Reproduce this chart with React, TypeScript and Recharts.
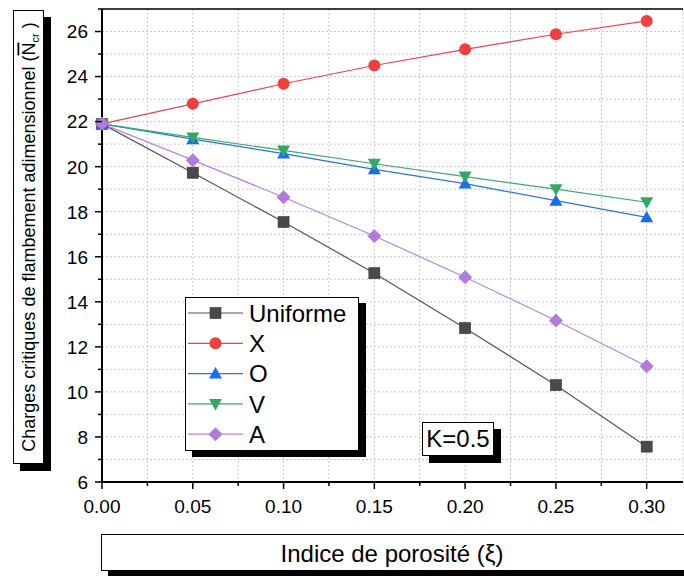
import React from 'react';
import { LineChart, Line, XAxis, YAxis, CartesianGrid, ReferenceLine } from 'recharts';

const porosity = [0, 0.05, 0.1, 0.15, 0.2, 0.25, 0.3];
const uniforme = [21.9, 19.73, 17.54, 15.27, 12.83, 10.3, 7.57];
const typeX = [21.9, 22.79, 23.68, 24.49, 25.21, 25.88, 26.47];
const typeO = [21.9, 21.22, 20.58, 19.88, 19.25, 18.49, 17.75];
const typeV = [21.9, 21.3, 20.72, 20.13, 19.56, 19.0, 18.42];
const typeA = [21.9, 20.29, 18.64, 16.92, 15.09, 13.17, 11.14];

const xTicks = [0, 0.025, 0.05, 0.075, 0.1, 0.125, 0.15, 0.175, 0.2, 0.225, 0.25, 0.275, 0.3];
const yTicks = [6, 7, 8, 9, 10, 11, 12, 13, 14, 15, 16, 17, 18, 19, 20, 21, 22, 23, 24, 25, 26, 27];

const FONT = '"Liberation Sans", Arial, Helvetica, sans-serif';

const data = porosity.map((x, i) => ({
  x,
  Uniforme: uniforme[i],
  X: typeX[i],
  O: typeO[i],
  V: typeV[i],
  A: typeA[i],
}));

type Shape = 'square' | 'circle' | 'up' | 'down' | 'diamond';

const series: { key: string; color: string; fill: string; shape: Shape }[] = [
  { key: 'Uniforme', color: '#555555', fill: '#4a4a4a', shape: 'square' },
  { key: 'X', color: '#ee4444', fill: '#ef3f3f', shape: 'circle' },
  { key: 'O', color: '#2a74e0', fill: '#1a6ee6', shape: 'up' },
  { key: 'V', color: '#3aaa6e', fill: '#33a866', shape: 'down' },
  { key: 'A', color: '#b584e2', fill: '#b07ade', shape: 'diamond' },
];

function Marker({ cx, cy, shape, fill }: { cx: number; cy: number; shape: Shape; fill: string }) {
  if (cx == null || cy == null || isNaN(cx) || isNaN(cy)) return null;
  switch (shape) {
    case 'square':
      return <rect x={cx - 5.5} y={cy - 5.5} width={11} height={11} fill={fill} stroke="#333" strokeWidth={0.6} />;
    case 'circle':
      return <circle cx={cx} cy={cy} r={6} fill={fill} />;
    case 'up':
      return <polygon points={`${cx},${cy - 6.5} ${cx - 6.5},${cy + 5} ${cx + 6.5},${cy + 5}`} fill={fill} />;
    case 'down':
      return <polygon points={`${cx - 6.5},${cy - 5} ${cx + 6.5},${cy - 5} ${cx},${cy + 6.5}`} fill={fill} />;
    case 'diamond':
    default:
      return <polygon points={`${cx},${cy - 7} ${cx + 7},${cy} ${cx},${cy + 7} ${cx - 7},${cy}`} fill={fill} />;
  }
}

function YTick(props: any) {
  const { x, y, payload } = props;
  const v = payload.value as number;
  const major = Math.round(v) % 2 === 0;
  return (
    <g>
      <line x1={x - (major ? 7 : 4)} x2={x} y1={y} y2={y} stroke="#000" strokeWidth={1.5} />
      {major && (
        <text x={x - 14} y={y} dy="0.36em" textAnchor="end" fontSize={19} fontFamily={FONT} fill="#000">
          {v}
        </text>
      )}
    </g>
  );
}

function XTick(props: any) {
  const { x, y, payload } = props;
  const v = payload.value as number;
  const major = Math.round(v * 1000) % 50 === 0;
  return (
    <g>
      <line x1={x} x2={x} y1={y} y2={y + (major ? 7 : 4)} stroke="#000" strokeWidth={1.5} />
      {major && (
        <text x={x} y={y + 31} textAnchor="middle" fontSize={19} fontFamily={FONT} fill="#000">
          {v.toFixed(2)}
        </text>
      )}
    </g>
  );
}

function LegendBox() {
  const rows = series;
  return (
    <div
      style={{
        position: 'absolute',
        left: 185,
        top: 297,
        width: 174,
        height: 154,
        boxSizing: 'border-box',
        border: '1px solid #000',
        background: '#fff',
        boxShadow: '7px 6px 0 #000',
      }}
    >
      <svg width={172} height={152} style={{ position: 'absolute', left: 0, top: 0 }}>
        {rows.map((s, i) => {
          const cy = 15 + i * 30.3;
          return (
            <g key={s.key}>
              <line x1={2} x2={57} y1={cy} y2={cy} stroke={s.color} strokeWidth={1.2} />
              <Marker cx={29.5} cy={cy} shape={s.shape} fill={s.fill} />
              <text x={63} y={cy + 8.6} fontSize={24} fontFamily={FONT} fill="#000">
                {s.key}
              </text>
            </g>
          );
        })}
      </svg>
    </div>
  );
}

function KBox() {
  return (
    <div
      style={{
        position: 'absolute',
        left: 422,
        top: 422,
        width: 72,
        height: 34,
        boxSizing: 'border-box',
        border: '1px solid #000',
        background: '#fff',
        boxShadow: '7px 7px 0 #000',
        fontFamily: FONT,
        fontSize: 24,
        lineHeight: '32px',
        textAlign: 'center',
        color: '#000',
      }}
    >
      K=0.5
    </div>
  );
}

function XLabelBox() {
  return (
    <div
      style={{
        position: 'absolute',
        left: 101,
        top: 534,
        width: 640,
        height: 37,
        boxSizing: 'border-box',
        border: '1px solid #000',
        background: '#fff',
        boxShadow: '7px 6px 0 #000',
      }}
    >
      <div
        style={{
          position: 'absolute',
          left: 0,
          top: 0,
          width: 580,
          height: 35,
          lineHeight: '37px',
          textAlign: 'center',
          fontFamily: FONT,
          fontSize: 24,
          color: '#000',
          whiteSpace: 'nowrap',
        }}
      >
        Indice de porosité (ξ)
      </div>
    </div>
  );
}

function YLabelBox() {
  return (
    <svg width={60} height={480} style={{ position: 'absolute', left: 0, top: 0 }}>
      <rect x={20} y={17} width={31} height={454} fill="#000" />
      <rect x={13.5} y={10.5} width={30} height={453} fill="#fff" stroke="#000" strokeWidth={1} />
      <text
        transform="translate(34.5,237) rotate(-90)"
        textAnchor="middle"
        fontSize={18}
        fontFamily={FONT}
        fill="#000"
      >
        Charges critiques de flambement adimensionnel (
        <tspan style={{ textDecoration: 'overline' }}>N</tspan>
        <tspan fontSize={11} dy={4}>cr</tspan>
        <tspan dy={-4}> )</tspan>
      </text>
    </svg>
  );
}

export default function App() {
  return (
    <div style={{ position: 'absolute', left: 0, top: 0, width: 684, height: 576, background: '#fff', overflow: 'hidden' }}>
      <LineChart width={684} height={576} data={data} margin={{ top: 9, right: 1, left: 0, bottom: 0 }}>
        <CartesianGrid stroke="#c9c9c9" strokeDasharray="2 2" strokeWidth={1} />
        <XAxis
          type="number"
          dataKey="x"
          domain={[0, 0.32]}
          ticks={xTicks}
          interval={0}
          height={94}
          tickSize={0}
          tickMargin={0}
          tickLine={false}
          tick={<XTick />}
          axisLine={{ stroke: '#000', strokeWidth: 2 }}
        />
        <YAxis
          type="number"
          domain={[6, 27]}
          ticks={yTicks}
          interval={0}
          width={102}
          tickSize={0}
          tickMargin={0}
          tickLine={false}
          tick={<YTick />}
          axisLine={{ stroke: '#000', strokeWidth: 2 }}
        />
        <ReferenceLine y={27} stroke="#000" strokeWidth={1.5} />
        {series.map((s) => (
          <Line
            key={s.key}
            type="linear"
            dataKey={s.key}
            stroke={s.color}
            strokeWidth={1.2}
            isAnimationActive={false}
            dot={(p: any) => (
              <g key={`${s.key}-${p.index}`}>
                <Marker cx={p.cx} cy={p.cy} shape={s.shape} fill={s.fill} />
              </g>
            )}
            activeDot={false}
          />
        ))}
      </LineChart>
      <LegendBox />
      <KBox />
      <XLabelBox />
      <YLabelBox />
    </div>
  );
}
